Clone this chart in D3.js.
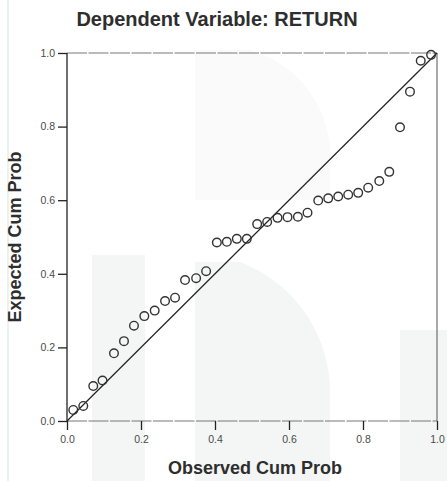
<!DOCTYPE html>
<html>
<head>
<meta charset="utf-8">
<script src="https://cdn.jsdelivr.net/npm/d3@7"></script>
<style>
	body { margin: 0; background: #fff; }
	svg { display: block; font-family: "Liberation Sans", Arial, sans-serif; }
	.tick text { fill: #4a4a4a; font-size: 10.5px; }
	.tick line { stroke: #222; }
	.domain { display: none; }
	.title, .label { fill: #2e2e2e; font-weight: bold; }
</style>
</head>
<body>
<div id="chart"></div>
<script>
// observed vs expected cumulative probability
const observed = [0.017, 0.044, 0.071, 0.096, 0.127, 0.154, 0.181, 0.209, 0.237, 0.265,
	0.292, 0.319, 0.349, 0.376, 0.405, 0.432, 0.459, 0.486, 0.514, 0.541,
	0.569, 0.596, 0.624, 0.650, 0.679, 0.706, 0.733, 0.760, 0.787, 0.814,
	0.844, 0.871, 0.900, 0.927, 0.956, 0.984];
const expected = [0.030, 0.041, 0.095, 0.110, 0.184, 0.217, 0.259, 0.285, 0.300, 0.326,
	0.335, 0.383, 0.388, 0.407, 0.485, 0.487, 0.495, 0.495, 0.535, 0.541,
	0.552, 0.554, 0.555, 0.566, 0.599, 0.605, 0.610, 0.615, 0.620, 0.634,
	0.652, 0.677, 0.798, 0.895, 0.979, 0.995];
const ticks = [0, 0.2, 0.4, 0.6, 0.8, 1.0];
const diagonal = [0, 1];

const width = 447;
const height = 481;
const plot = { left: 67, right: 437, top: 53, bottom: 421 };

const x = d3.scaleLinear().domain([0, 1]).range([plot.left, plot.right]);
const y = d3.scaleLinear().domain([0, 1]).range([plot.bottom, plot.top]);

const svg = d3.select("#chart")
	.append("svg")
		.attr("width", width)
		.attr("height", height);

// faint watermark behind the scan
const wm = svg.append("g").attr("fill", "#f3f6f5");
wm.append("rect").attr("x", 92).attr("y", 255).attr("width", 53).attr("height", 226);
wm.append("path").attr("d", "M195,481 L195,262 L240,262 A140,140 0 0 1 330,400 L330,481 Z");
wm.append("rect").attr("x", 400).attr("y", 330).attr("width", 47).attr("height", 151);
wm.append("path").attr("d", "M195,50 L250,50 A110,110 0 0 1 330,150 L330,200 L195,200 Z").attr("fill", "#f9faf9");
svg.append("line")
	.attr("x1", 8).attr("x2", 8).attr("y1", 0).attr("y2", height)
	.attr("stroke", "#e3eff1").attr("stroke-width", 1.5);

// title
svg.append("text")
	.attr("class", "title")
	.attr("x", 217)
	.attr("y", 26)
	.attr("text-anchor", "middle")
	.attr("font-size", 20)
	.text("Dependent Variable: RETURN");

// frame
svg.append("line")
	.attr("x1", plot.left).attr("x2", plot.right).attr("y1", plot.top).attr("y2", plot.top)
	.attr("stroke", "#777").attr("stroke-dasharray", "20,1.5");
svg.append("line")
	.attr("x1", plot.left).attr("x2", plot.right).attr("y1", plot.bottom).attr("y2", plot.bottom)
	.attr("stroke", "#777").attr("stroke-dasharray", "20,1.5");
svg.append("line")
	.attr("x1", plot.right).attr("x2", plot.right).attr("y1", plot.top).attr("y2", plot.bottom)
	.attr("stroke", "#555");
svg.append("line")
	.attr("x1", plot.left).attr("x2", plot.left).attr("y1", plot.top).attr("y2", plot.bottom)
	.attr("stroke", "#222").attr("stroke-width", 1.3);

// axes
svg.append("g")
	.attr("transform", `translate(${plot.left},0)`)
	.call(d3.axisLeft(y).tickValues(ticks).tickSize(9).tickPadding(3).tickFormat(d3.format(".1f")));

svg.append("g")
	.attr("transform", `translate(0,${plot.bottom})`)
	.call(d3.axisBottom(x).tickValues(ticks).tickSize(9).tickPadding(6).tickFormat(d3.format(".1f")));

svg.selectAll(".tick line").attr("stroke-width", 1.3);

// axis labels
svg.append("text")
	.attr("class", "label")
	.attr("x", (plot.left + plot.right) / 2 + 3)
	.attr("y", 474)
	.attr("text-anchor", "middle")
	.attr("font-size", 18)
	.text("Observed Cum Prob");

svg.append("text")
	.attr("class", "label")
	.attr("transform", `translate(21,${(plot.top + plot.bottom) / 2}) rotate(-90)`)
	.attr("text-anchor", "middle")
	.attr("font-size", 18)
	.text("Expected Cum Prob");

// reference line
svg.append("line")
	.attr("x1", x(diagonal[0])).attr("y1", y(diagonal[0]))
	.attr("x2", x(diagonal[1])).attr("y2", y(diagonal[1]))
	.attr("stroke", "#222")
	.attr("stroke-width", 1.2);

// points
svg.append("g")
	.selectAll("circle")
	.data(observed.map((d, i) => ({ obs: d, exp: expected[i] })))
	.enter()
	.append("circle")
		.attr("cx", (d) => x(d.obs))
		.attr("cy", (d) => y(d.exp))
		.attr("r", 4.3)
		.attr("fill", "none")
		.attr("stroke", "#333")
		.attr("stroke-width", 1.4);
</script>
</body>
</html>
